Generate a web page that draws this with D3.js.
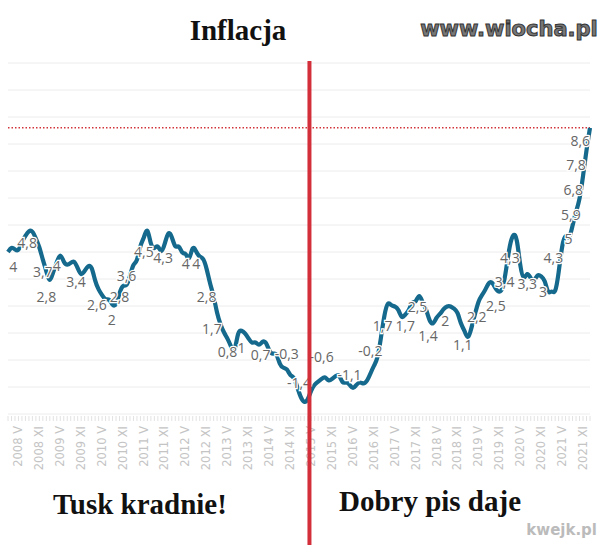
<!DOCTYPE html>
<html><head><meta charset="utf-8">
<script src="https://cdn.jsdelivr.net/npm/d3@7"></script>
<style>body{margin:0;background:#fff}</style>
</head><body>
<svg id="c" width="610" height="545"></svg>
<script>
// monthly CPI y/y, Jan 2008 .. Dec 2021
const cpi = [
4.0,4.2,4.1,4.0,4.4,4.6,4.8,4.8,4.5,4.2,3.7,3.3,
2.8,3.3,3.6,4.0,3.6,3.5,3.6,3.7,3.4,3.1,3.3,3.5,
3.5,2.9,2.6,2.4,2.2,2.3,2.0,2.0,2.5,2.8,2.7,3.1,
3.6,3.6,4.3,4.5,5.0,4.2,4.1,4.3,3.9,4.3,4.8,4.6,
4.1,4.3,3.9,4.0,3.6,4.3,4.0,3.8,3.8,3.4,2.8,2.4,
1.7,1.3,1.0,0.8,0.5,0.2,1.1,1.1,1.0,0.8,0.6,0.7,
0.5,0.7,0.7,0.3,0.2,0.3,-0.2,-0.3,-0.3,-0.6,-0.6,-1.0,
-1.4,-1.6,-1.5,-1.1,-0.9,-0.8,-0.7,-0.6,-0.8,-0.7,-0.6,-0.5,
-0.9,-0.8,-0.9,-1.1,-0.9,-0.8,-0.9,-0.8,-0.5,-0.2,0.0,0.8,
1.7,2.2,2.0,2.0,1.9,1.5,1.7,1.8,2.2,2.1,2.5,2.1,
1.9,1.4,1.3,1.6,1.7,1.9,2.0,2.0,1.9,1.8,1.3,1.1,
0.7,1.2,1.7,2.2,2.4,2.6,2.9,2.9,2.6,2.5,2.6,3.4,
4.3,4.7,4.6,3.4,2.9,3.3,3.0,2.9,3.2,3.1,3.0,2.4,
2.6,2.4,3.2,4.3,4.7,4.4,5.0,5.5,5.9,6.8,7.8,8.6];
const tickLabels = [];
for (let y = 2008; y <= 2021; y++) { tickLabels.push(y + " V", y + " XI"); }
const gridValues = d3.range(-2, 12, 1);
const peakValue = 8.6;
const splitMonth = 86.5;
// value labels: [month index, value position, text]
const valueLabels = [
[1.5,3.4,"4"],[5.5,4.3,"4,8"],[10,3.2,"3,7"],[11,2.3,"2,8"],[14,3.45,"4"],[19.5,2.85,"3,4"],
[25.5,2.0,"2,6"],[32,2.3,"2,8"],[29.8,1.45,"2"],[34,3.05,"3,6"],[39,3.95,"4,5"],[44.5,3.75,"4,3"],
[51,3.5,"4"],[54,3.5,"4"],[57,2.3,"2,8"],[58.5,1.1,"1,7"],[63,0.25,"0,8"],[67,0.4,"1"],
[72.5,0.15,"0,7"],[80,0.18,"-0,3"],[83.5,-0.9,"-1,4"],[90,0.05,"-0,6"],[98,-0.6,"-1,1"],
[104,0.3,"-0,2"],[107.5,1.2,"1,7"],[114,1.2,"1,7"],[117.5,1.92,"2,5"],[120.5,0.85,"1,4"],
[125.5,1.4,"2"],[130.5,0.52,"1,1"],[134.5,1.55,"2,2"],[140,1.95,"2,5"],[142.5,2.85,"3,4"],
[144,3.75,"4,3"],[149,2.78,"3,3"],[153.5,2.48,"3"],[156.5,3.72,"4,3"],[160.8,4.45,"5"],
[161.5,5.33,"5,9"],[162.2,6.25,"6,8"],[163,7.18,"7,8"],[164.2,8.05,"8,6"]];

const svg = d3.select("#c");
const x = d3.scaleLinear().domain([0, cpi.length - 1]).range([8, 590]);
const y = d3.scaleLinear().domain([0, 10]).range([360, 90]);
const xl = d3.scalePoint().domain(tickLabels).range([18, 583]);

svg.append("g").selectAll("line").data(gridValues).join("line")
  .attr("x1", 8).attr("x2", 590).attr("y1", d => y(d)).attr("y2", d => y(d))
  .attr("stroke", "#ececec").attr("stroke-width", 1);

svg.append("g").selectAll("line").data(d3.range(0, cpi.length)).join("line")
  .attr("x1", d => x(d)).attr("x2", d => x(d)).attr("y1", y(-2) + 2).attr("y2", y(-2) + 7)
  .attr("stroke", "#e2e2e2");

svg.append("g").selectAll("text").data(tickLabels).join("text")
  .attr("transform", d => `translate(${xl(d) + 4},${y(-2) + 12}) rotate(-90)`)
  .attr("text-anchor", "end").attr("font-family", "DejaVu Sans, sans-serif")
  .attr("font-size", 11.5).attr("fill", "#c4c4c4").text(d => d);

svg.append("line").attr("x1", 8).attr("x2", 590).attr("y1", y(peakValue)).attr("y2", y(peakValue))
  .attr("stroke", "#d0343a").attr("stroke-width", 1.6).attr("stroke-dasharray", "1.5,2");

svg.append("path").datum(cpi)
  .attr("d", d3.line().x((d, i) => x(i)).y(d => y(d)).curve(d3.curveBasis))
  .attr("fill", "none").attr("stroke", "#14698c").attr("stroke-width", 4.2)
  .attr("stroke-linejoin", "round");

svg.append("g").selectAll("text").data(valueLabels).join("text")
  .attr("x", d => x(d[0])).attr("y", d => y(d[1]))
  .attr("text-anchor", "middle").attr("dominant-baseline", "middle")
  .attr("font-family", "Open Sans, sans-serif").attr("font-size", 14)
  .attr("fill", "#666").attr("stroke", "#fff").attr("stroke-width", 2.5)
  .attr("paint-order", "stroke").text(d => d[2]);

svg.append("line").attr("x1", x(splitMonth)).attr("x2", x(splitMonth)).attr("y1", 61).attr("y2", 545)
  .attr("stroke", "#d32f3a").attr("stroke-width", 4);

svg.append("text").attr("x", 238).attr("y", 40).attr("text-anchor", "middle")
  .attr("font-family", "Liberation Serif, serif").attr("font-weight", "bold").attr("font-size", 29)
  .attr("fill", "#111").text("Inflacja");
svg.append("text").attr("x", 509).attr("y", 36).attr("text-anchor", "middle")
  .attr("font-family", "DejaVu Sans, sans-serif").attr("font-weight", "bold").attr("font-size", 21)
  .attr("fill", "#777").attr("stroke", "#333").attr("stroke-width", 1).text("www.wiocha.pl");
svg.append("text").attr("x", 140).attr("y", 514).attr("text-anchor", "middle")
  .attr("font-family", "Liberation Serif, serif").attr("font-weight", "bold").attr("font-size", 29)
  .attr("fill", "#111").text("Tusk kradnie!");
svg.append("text").attr("x", 430).attr("y", 511).attr("text-anchor", "middle")
  .attr("font-family", "Liberation Serif, serif").attr("font-weight", "bold").attr("font-size", 29)
  .attr("fill", "#111").text("Dobry pis daje");
svg.append("text").attr("x", 597).attr("y", 535).attr("text-anchor", "end")
  .attr("font-family", "DejaVu Sans, sans-serif").attr("font-weight", "bold").attr("font-size", 15)
  .attr("fill", "#bbb").text("kwejk.pl");
</script>
</body></html>
